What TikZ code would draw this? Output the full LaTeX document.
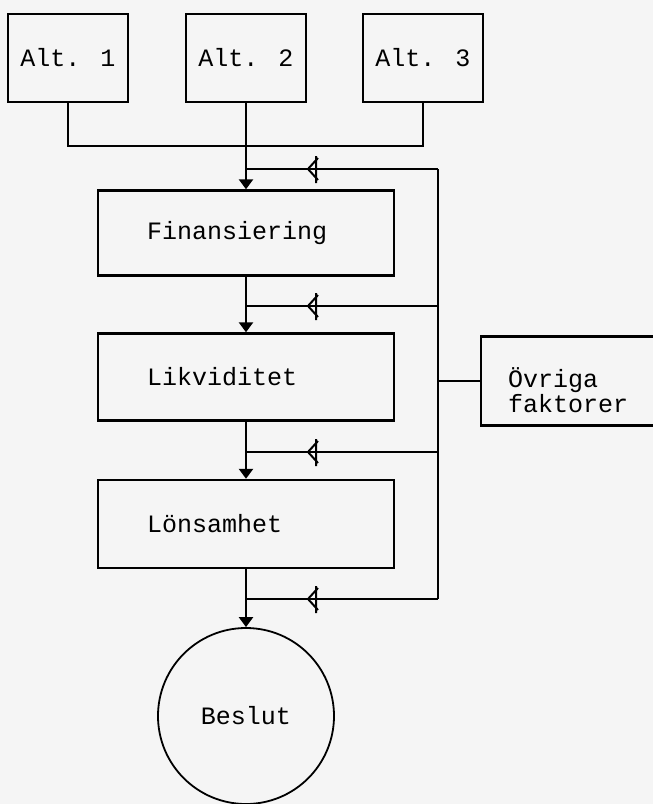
\documentclass[tikz,border=0pt]{standalone}
\usepackage{fontspec}
\newfontfamily\typewr{Liberation Mono}
\usetikzlibrary{arrows.meta,decorations.markings}

\tikzset{
  box/.style={draw, rectangle, inner sep=0pt, font=\typewr\fontsize{25}{21}\selectfont},
  altbox/.style={box, minimum width=120pt, minimum height=88pt},
  stepbox/.style={box, text width=198pt, align=left, inner xsep=49pt},
  fb/.style={postaction={decorate}, decoration={markings,
      mark=at position 130pt with {\draw[line width=2pt] (-10,-11) -- (0,0) -- (-10,11) (-8,-14) -- (-8,13);}}}
}

\begin{document}
\begin{tikzpicture}[x=1pt, y=-1pt, line width=2.4pt, >={Triangle[length=10pt,width=14pt]}]

    \fill[black!4] (0,0) rectangle (653,804);
    \useasboundingbox (0,0) rectangle (653,804);
    \clip (0,0) rectangle (653,804);

    \node[altbox] (alt1) at (68,58) {Alt. 1};
    \node[altbox] (alt2) at (246,58) {Alt. 2};
    \node[altbox] (alt3) at (423,58) {Alt. 3};

    \node[stepbox, minimum height=85pt] (fin) at (246,233) {Finansiering};
    \node[stepbox, minimum height=87pt] (liq) at (246,377) {Likviditet};
    \node[stepbox, minimum height=88pt] (lon) at (246,524) {Lönsamhet};
    \node[box, text width=160pt, align=left, inner xsep=27pt, minimum height=89pt, text depth=6pt] (ovr) at (588,381) {Övriga\\faktorer};
    \node[circle, draw, line width=1.8pt, inner sep=0pt, minimum size=176pt, font=\typewr\fontsize{25}{21}\selectfont] (beslut) at (246,716) {Beslut};

    \coordinate (bus) at (246,146);
    \coordinate (j1) at (246,169);  \coordinate (r1) at (438,169);
    \coordinate (j2) at (246,306);  \coordinate (r2) at (438,306);
    \coordinate (j3) at (246,452);  \coordinate (r3) at (438,452);
    \coordinate (j4) at (246,599);  \coordinate (r4) at (438,599);

    \draw (alt1.south) |- (bus) -| (alt3.south);
    \draw[->] (alt2.south) -- (fin.north);
    \draw[->] (fin.south) -- (liq.north);
    \draw[->] (liq.south) -- (lon.north);
    \draw[->] (lon.south) -- (beslut.north);

    \draw[line width=2pt] (r1) -- (r4);
    \draw[fb] (r1) -- (j1);
    \draw[fb] (r2) -- (j2);
    \draw[fb] (r3) -- (j3);
    \draw[fb] (r4) -- (j4);
    \draw[line width=1.6pt] (ovr.west) -- (ovr.west -| r1);

\end{tikzpicture}
\end{document}
